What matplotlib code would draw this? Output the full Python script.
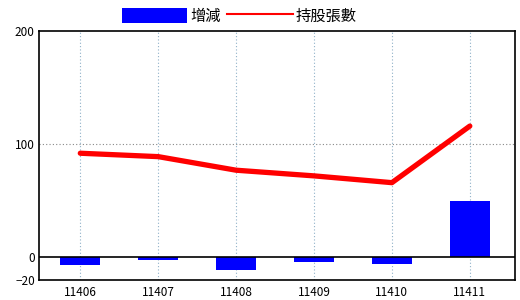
import matplotlib

matplotlib.use("Agg")
import matplotlib.pyplot as plt
from matplotlib.lines import Line2D
from matplotlib.patches import Patch

plt.rcParams["font.family"] = ["Noto Sans CJK TC", "DejaVu Sans"]

months = ["11406", "11407", "11408", "11409", "11410", "11411"]
change = [-7, -2.5, -11.5, -4.5, -6, 50]
holding = [92, 89, 77, 72, 66, 116]

fig = plt.figure(figsize=(5.2, 3.0), dpi=100)
ax = fig.add_axes([39 / 520, 1 - 280 / 300, (515 - 39) / 520, (280 - 31) / 300])

x = list(range(len(months)))
ax.bar(x, change, width=0.51, color="#0000ff", zorder=2)
ax.plot(x, holding, color="#ff0000", linewidth=3.8, solid_capstyle="round", zorder=3)
ax.axhline(0, color="black", linewidth=1.2, zorder=2.5)

ax.set_xlim(-0.53, 5.58)
ax.set_ylim(-20, 200)
ax.set_xticks(x, months)
ax.set_yticks([-20, 0, 100, 200])
ax.tick_params(length=0, labelsize=8.5, pad=4)
ax.tick_params(axis="y", pad=3)

ax.grid(axis="x", color="#8fb0c8", linestyle=(0, (1, 2)), linewidth=0.8, zorder=0)
ax.axhline(100, color="#888888", linestyle=(0, (1, 2)), linewidth=0.8, zorder=0)
for sp in ax.spines.values():
    sp.set_color("black")
    sp.set_linewidth(1.2)

handles = [
    Patch(facecolor="#0000ff", edgecolor="none", label="增減"),
    Line2D([0], [0], color="#ff0000", linewidth=1.5, label="持股張數"),
]
fig.legend(handles=handles, loc="center", bbox_to_anchor=(0.46, 1 - 16 / 300), ncol=2,
           frameon=False, fontsize=11, handlelength=4.3, handleheight=1.1,
           handletextpad=0.2, columnspacing=0.4, borderpad=0)

fig.savefig("out.png", dpi=100)
